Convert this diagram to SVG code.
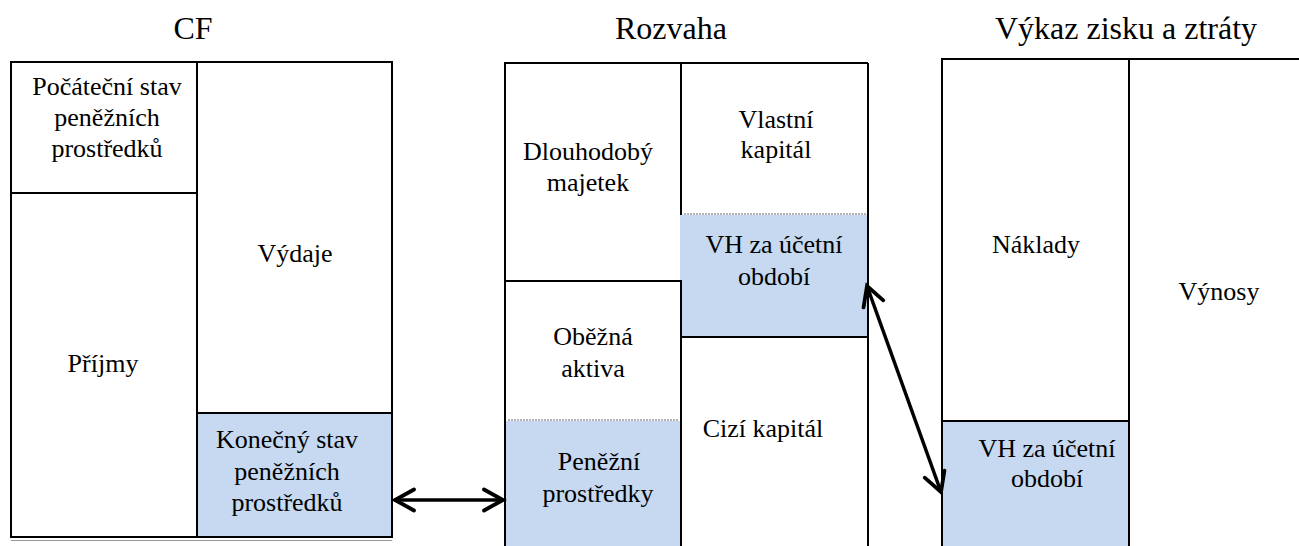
<svg xmlns="http://www.w3.org/2000/svg" width="1299" height="546" viewBox="0 0 1299 546">
<style>
text{font-family:'Liberation Serif','DejaVu Serif',serif;fill:#000;text-anchor:middle}
.t{font-size:26px}
.h{font-size:32px}
.b{fill:#C6D9F0;stroke:none}
.ln{stroke:#000;stroke-width:2;fill:none}
.dot{stroke:#666;stroke-width:1.2;stroke-dasharray:2 1;fill:none}
.arr{stroke:#000;stroke-width:3.5;fill:none}
</style>
<defs>
<marker id="ah" markerUnits="userSpaceOnUse" viewBox="-22 -13 26 26" refX="0" refY="0" markerWidth="26" markerHeight="26" orient="auto-start-reverse" overflow="visible">
<path d="M-19,-10.5 L0,0 L-19,10.5" stroke="#000" stroke-width="3.8" fill="none" stroke-linecap="round" stroke-linejoin="miter"/>
</marker>
</defs>
<rect width="1299" height="546" fill="#fff"/>
<g id="titles">
<text class="h" x="193" y="39">CF</text>
<text class="h" x="671" y="39">Rozvaha</text>
<text class="h" x="1126" y="39">Výkaz zisku a ztráty</text>
</g>
<g id="cf">
<g id="cf-pocatecni">
<rect class="ln" x="11" y="62" width="186" height="131"/>
<text class="t" x="107" y="95">Počáteční stav</text>
<text class="t" x="107" y="126">peněžních</text>
<text class="t" x="107" y="157">prostředků</text>
</g>
<g id="cf-prijmy">
<rect class="ln" x="11" y="193" width="186" height="344"/>
<text class="t" x="103" y="372">Příjmy</text>
</g>
<g id="cf-vydaje">
<rect class="ln" x="197" y="62" width="195" height="351"/>
<text class="t" x="295" y="262">Výdaje</text>
</g>
<g id="cf-konecny">
<rect class="b" x="198" y="414" width="193" height="122"/>
<path class="ln" d="M197,413 H392 V537 H197 Z"/>
<text class="t" x="287" y="448">Konečný stav</text>
<text class="t" x="287" y="480">peněžních</text>
<text class="t" x="287" y="511">prostředků</text>
</g>
<line x1="11" y1="540.5" x2="392" y2="540.5" stroke="#999" stroke-width="1"/>
</g>
<g id="rozvaha">
<g id="rz-dlouhodoby">
<path class="ln" d="M505,281 V63 H681 V263"/>
<text class="t" x="588" y="160">Dlouhodobý</text>
<text class="t" x="588" y="191">majetek</text>
</g>
<g id="rz-vlastni">
<path class="ln" d="M681,63 H868"/>
<line class="dot" x1="684" y1="214" x2="866" y2="214"/>
<text class="t" x="776" y="128">Vlastní</text>
<text class="t" x="776" y="158">kapitál</text>
</g>
<g id="rz-vh">
<rect class="b" x="680" y="215" width="187" height="122"/>
<text class="t" x="774" y="253">VH za účetní</text>
<text class="t" x="774" y="285">období</text>
</g>
<g id="rz-obezna">
<rect class="b" x="506" y="421" width="174" height="125"/>
<path class="ln" d="M505,546 V281 H681 V546"/>
<line class="dot" x1="508" y1="420" x2="678" y2="420"/>
<text class="t" x="593" y="345">Oběžná</text>
<text class="t" x="593" y="377">aktiva</text>
<text class="t" x="599" y="470">Peněžní</text>
<text class="t" x="598" y="502">prostředky</text>
</g>
<g id="rz-cizi">
<path class="ln" d="M681,337 H868"/>
<path class="ln" d="M868,63 V546"/>
<text class="t" x="763" y="437">Cizí kapitál</text>
</g>
</g>
<g id="vzz">
<g id="vzz-naklady">
<path class="ln" d="M942,546 V59 H1299"/>
<path class="ln" d="M1129,59 V546"/>
<text class="t" x="1036" y="253">Náklady</text>
</g>
<g id="vzz-vh">
<rect class="b" x="943" y="422" width="185" height="124"/>
<line class="ln" x1="942" y1="421" x2="1129" y2="421"/>
<text class="t" x="1047" y="457">VH za účetní</text>
<text class="t" x="1047" y="487">období</text>
</g>
<g id="vzz-vynosy">
<text class="t" x="1219" y="300">Výnosy</text>
</g>
</g>
<g id="connectors">
<line class="arr" x1="395" y1="500" x2="503" y2="500" marker-start="url(#ah)" marker-end="url(#ah)"/>
<line class="arr" x1="867" y1="286" x2="941" y2="492" marker-start="url(#ah)" marker-end="url(#ah)"/>
</g>
</svg>
